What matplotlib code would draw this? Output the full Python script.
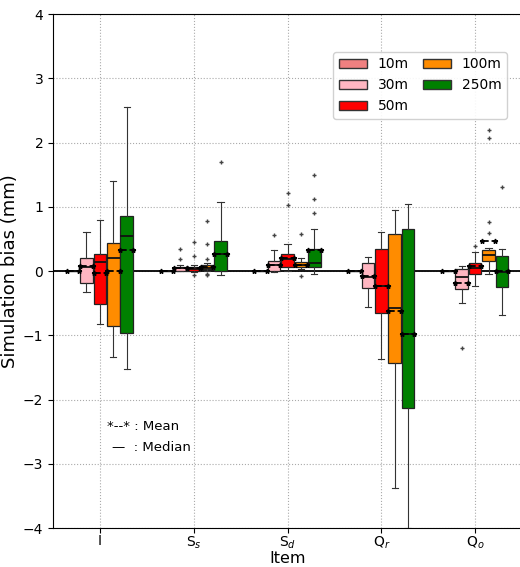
import matplotlib
matplotlib.use("Agg")
import matplotlib.pyplot as plt
from matplotlib.patches import Patch
import numpy as np

items = ["I", "S$_s$", "S$_d$", "Q$_r$", "Q$_o$"]
series = ["10m", "30m", "50m", "100m", "250m"]
colors = ["#F08080", "#FFB6C1", "#FF0000", "#FF8C00", "#008000"]

# statistics per series, one value per item (I, Ss, Sd, Qr, Qo)
s10_q1 = [0, 0, 0, 0, 0]
s10_q3 = [0, 0, 0, 0, 0]
s10_med = [0, 0, 0, 0, 0]
s10_mean = [0, 0, 0, 0, 0]
s10_wlo = [0, 0, 0, 0, 0]
s10_whi = [0, 0, 0, 0, 0]
s10_fl = [[], [], [], [], []]

s30_q1 = [-0.18, 0.0, 0.0, -0.26, -0.285]
s30_q3 = [0.21, 0.07, 0.155, 0.12, 0.03]
s30_med = [0.07, 0.04, 0.09, -0.09, -0.09]
s30_mean = [0.08, 0.05, 0.10, -0.08, -0.19]
s30_wlo = [-0.32, 0.0, -0.01, -0.56, -0.50]
s30_whi = [0.60, 0.10, 0.33, 0.22, 0.08]
s30_fl = [[], [0.34, 0.18], [0.56], [], [-1.2]]

s50_q1 = [-0.52, 0.0, 0.06, -0.66, -0.04]
s50_q3 = [0.26, 0.06, 0.26, 0.34, 0.125]
s50_med = [0.14, 0.03, 0.19, -0.23, 0.04]
s50_mean = [-0.03, 0.04, 0.20, -0.23, 0.08]
s50_wlo = [-0.82, -0.02, 0.0, -1.37, -0.23]
s50_whi = [0.80, 0.10, 0.42, 0.60, 0.30]
s50_fl = [[], [0.45, 0.24, -0.07], [1.21, 1.02], [], [0.39]]

s100_q1 = [-0.86, 0.03, 0.07, -1.43, 0.16]
s100_q3 = [0.44, 0.10, 0.135, 0.57, 0.32]
s100_med = [0.21, 0.05, 0.10, -0.57, 0.25]
s100_mean = [0.0, 0.07, 0.10, -0.63, 0.46]
s100_wlo = [-1.34, 0.0, 0.03, -3.37, -0.04]
s100_whi = [1.40, 0.12, 0.21, 0.95, 0.36]
s100_fl = [[], [0.78, 0.42, 0.19, -0.05, -0.07], [0.58, -0.08], [], [2.2, 2.07, 0.77, 0.59]]

s250_q1 = [-0.96, 0.0, 0.07, -2.13, -0.25]
s250_q3 = [0.86, 0.47, 0.34, 0.65, 0.24]
s250_med = [0.545, 0.27, 0.12, -0.98, -0.01]
s250_mean = [0.33, 0.27, 0.32, -0.98, 0.0]
s250_wlo = [-1.52, -0.06, -0.05, -4.0, -0.69]
s250_whi = [2.55, 1.07, 0.65, 1.05, 0.35]
s250_fl = [[], [1.70], [1.5, 1.12, 0.9], [], [1.3]]

all_stats = [
    (s10_q1, s10_q3, s10_med, s10_mean, s10_wlo, s10_whi, s10_fl),
    (s30_q1, s30_q3, s30_med, s30_mean, s30_wlo, s30_whi, s30_fl),
    (s50_q1, s50_q3, s50_med, s50_mean, s50_wlo, s50_whi, s50_fl),
    (s100_q1, s100_q3, s100_med, s100_mean, s100_wlo, s100_whi, s100_fl),
    (s250_q1, s250_q3, s250_med, s250_mean, s250_wlo, s250_whi, s250_fl),
]

fig = plt.figure(figsize=(5.20, 5.67), dpi=100)
ax = fig.add_axes([53/520, 39/567, 469/520, 514/567])

spacing = 0.143
width = 0.135
x = np.arange(len(items))

ax.axhline(0, color="black", linewidth=1.3, zorder=1)

for i, (q1, q3, med, mean, wlo, whi, fl) in enumerate(all_stats):
    stats = []
    for j in range(len(items)):
        stats.append(dict(q1=q1[j], q3=q3[j], med=med[j], mean=mean[j],
                          whislo=wlo[j], whishi=whi[j], fliers=fl[j]))
    pos = x + (i - 2) * spacing
    ax.bxp(stats, positions=pos, widths=width, patch_artist=True,
           showmeans=True, meanline=True, manage_ticks=False,
           boxprops=dict(facecolor=colors[i], edgecolor="#222222", linewidth=0.9),
           medianprops=dict(color="#111111", linewidth=1.3),
           meanprops=dict(color="black", linestyle="--", linewidth=1.3,
                          marker="*", markersize=3.5, markerfacecolor="black",
                          markeredgecolor="black"),
           whiskerprops=dict(color="#333333", linewidth=0.8),
           capprops=dict(color="#333333", linewidth=0.8),
           flierprops=dict(marker="+", markersize=3.5, markeredgecolor="#444444",
                           linestyle="none"),
           zorder=3)

ax.set_xlim(-0.5, 4.5)
ax.set_ylim(-4, 4)
ax.set_xticks(x)
ax.set_xticklabels(items, fontsize=10)
ax.set_yticks(np.arange(-4, 5, 1))
ax.tick_params(axis="y", labelsize=10)
ax.tick_params(axis="x", pad=1)
ax.grid(True, linestyle=":", color="#aaaaaa", linewidth=0.8)
ax.set_axisbelow(True)
ax.set_xlabel("Item", fontsize=11.5, labelpad=0)
ax.set_ylabel("Simulation bias (mm)", fontsize=13, labelpad=3)

handles = [Patch(facecolor=c, edgecolor="#333333", label=s) for c, s in zip(colors, series)]
ax.legend(handles=handles, ncol=2, loc="upper right", bbox_to_anchor=(0.983, 0.94),
          fontsize=10, columnspacing=1.0, handlelength=2.0, framealpha=0.9)

ax.text(0.115, 0.19, "*--* : Mean", transform=ax.transAxes, fontsize=9.5)
ax.text(0.125, 0.15, "\u2014  : Median", transform=ax.transAxes, fontsize=9.5)

fig.savefig("out.png", dpi=100)
